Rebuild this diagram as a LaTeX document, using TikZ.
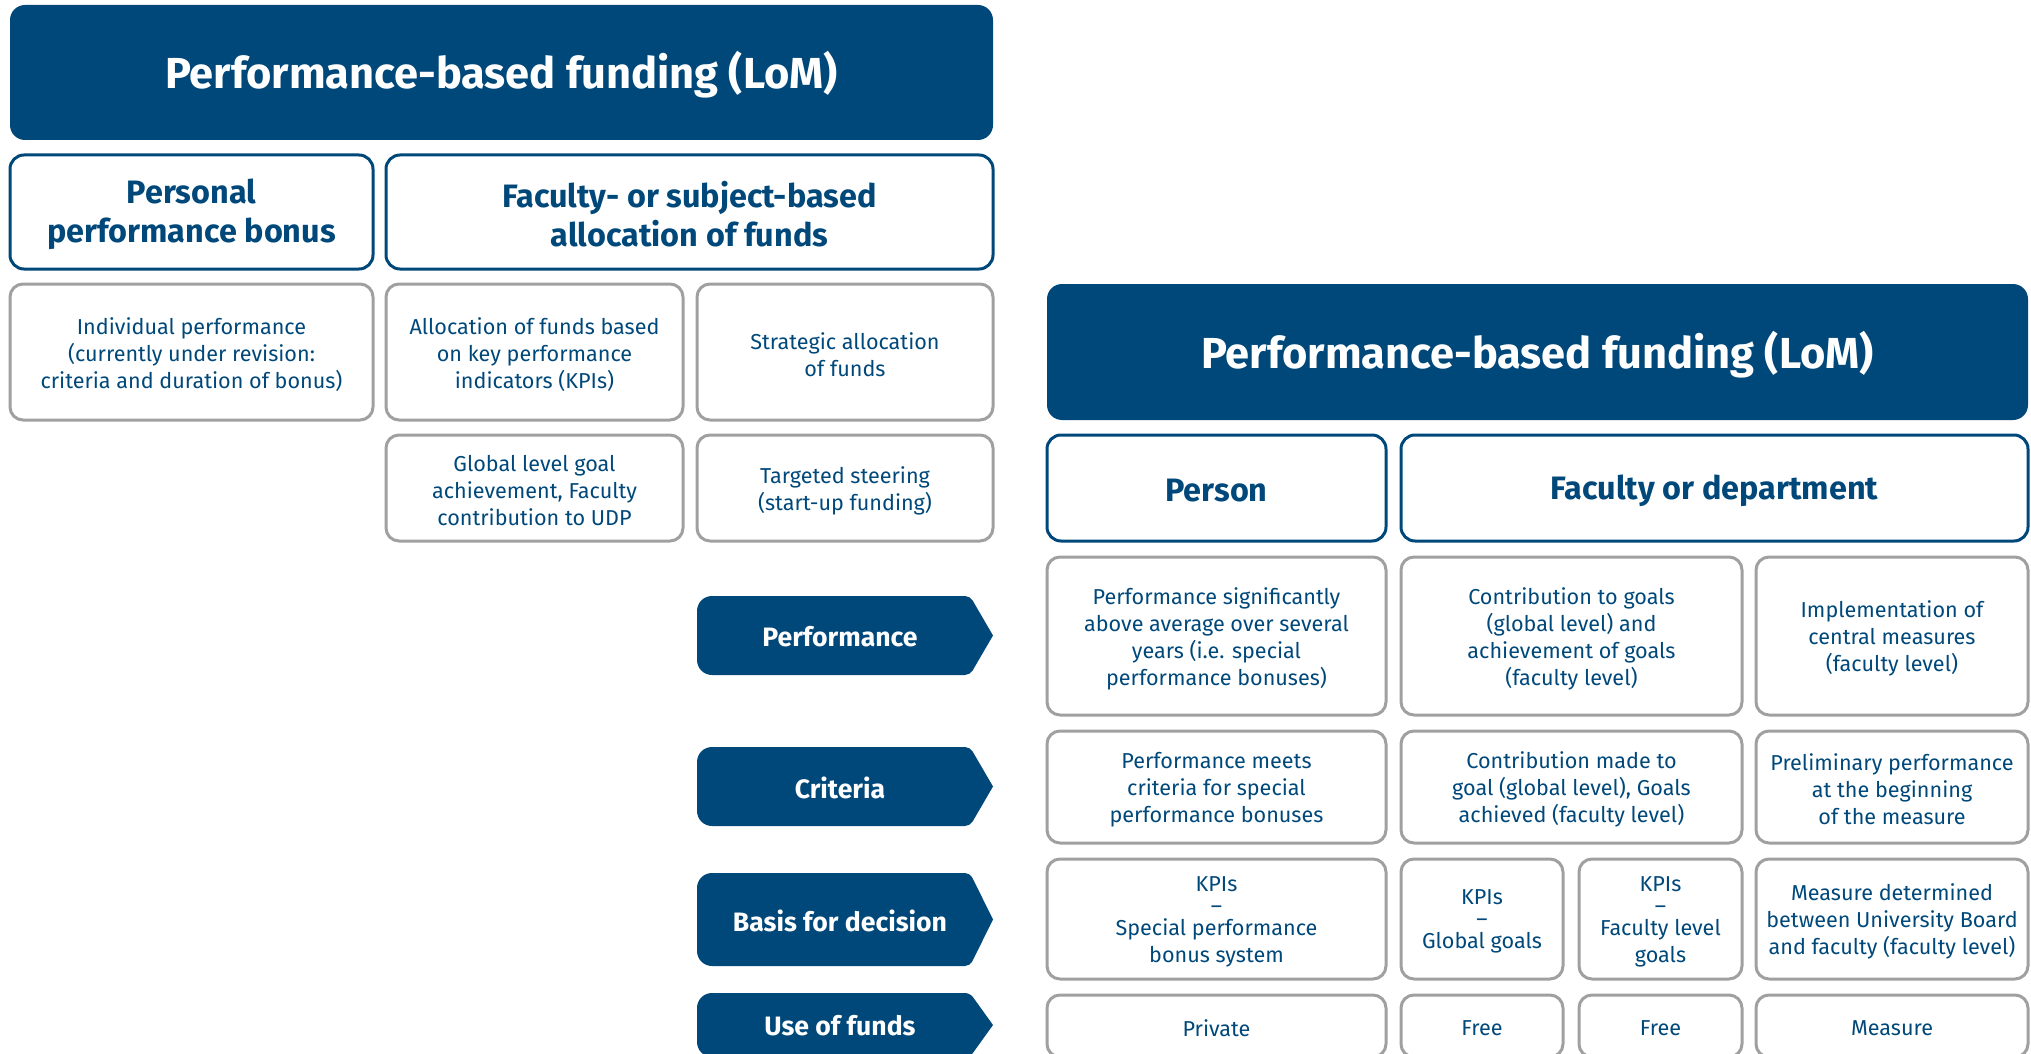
\documentclass[tikz,border=0pt]{standalone}
\usepackage{fontspec}
\setmainfont{Fira Sans}
\usetikzlibrary{fit}
\definecolor{lomblue}{RGB}{0,72,122}
\definecolor{cellgray}{RGB}{160,160,160}
\newcommand\chevron[4]{%
  \fill[lomblue] (993,{(#2+#3)/2}) [rounded corners=2.5pt] -- (970,#2) [rounded corners=7.5pt] -- (697,#2) -- (697,#3) [rounded corners=2.5pt] -- (970,#3) [sharp corners] -- cycle;
  \node[chevtext] (#1) at (840,{(#2+#3)/2}) {#4};}
\begin{document}
\begin{tikzpicture}[x=0.5pt,y=-0.5pt,
  titlebox/.style={fill=lomblue, text=white, inner sep=0pt, rounded corners=7.5pt},
  titletext/.style={text=white, inner sep=0pt, yshift=-1.3pt, font=\bfseries\fontsize{21.7}{26}\selectfont},
  headbox/.style={draw=lomblue, line width=1.5pt, inner sep=0pt, rounded corners=7pt},
  headtext/.style={text=lomblue, inner sep=0pt, yshift=-1.2pt, align=center, font=\bfseries\fontsize{16.2}{19.5}\selectfont},
  cellbox/.style={draw=cellgray, line width=1.5pt, inner sep=0pt, rounded corners=6.5pt},
  celltext/.style={text=lomblue, inner sep=0pt, yshift=-1.2pt, align=center, font=\fontsize{10.8}{13.5}\selectfont},
  chevtext/.style={text=white, inner sep=0pt, yshift=-0.5pt, font=\bfseries\fontsize{13.3}{16}\selectfont}]
\useasboundingbox (0,0) rectangle (2031,1054);
\clip (0,0) rectangle (2031,1054);
% left diagram
\node[titlebox, fit={(10,5) (993,140)}] (t1) {};
\node[titletext] (t1l) at (t1.center) {Performance-based funding (LoM)};
\node[headbox, fit={(10,155) (373,269)}] (h1) {};
\node[headtext] (h1l) at (h1.center) {Personal\\performance bonus};
\node[headbox, fit={(386,155) (993,269)}] (h2) {};
\node[headtext] (h2l) at (h2.center) {Faculty- or subject-based\\allocation of funds};
\node[cellbox, fit={(10,284) (373,420)}] (b1) {};
\node[celltext] (b1l) at (b1.center) {Individual performance\\(currently under revision:\\criteria and duration of bonus)};
\node[cellbox, fit={(386,284) (683,420)}] (b2) {};
\node[celltext] (b2l) at (b2.center) {Allocation of funds based\\on key performance\\indicators (KPIs)};
\node[cellbox, fit={(697,284) (993,420)}] (b3) {};
\node[celltext] (b3l) at (b3.center) {Strategic allocation\\of funds};
\node[cellbox, fit={(386,435) (683,541)}] (b4) {};
\node[celltext] (b4l) at (b4.center) {Global level goal\\achievement, Faculty\\contribution to UDP};
\node[cellbox, fit={(697,435) (993,541)}] (b5) {};
\node[celltext] (b5l) at (b5.center) {Targeted steering\\(start-up funding)};
% right diagram
\node[titlebox, fit={(1047,284) (2028,420)}] (t2) {};
\node[titletext] (t2l) at (t2.center) {Performance-based funding (LoM)};
\node[headbox, fit={(1047,435) (1386,541)}] (h3) {};
\node[headtext] (h3l) at (h3.center) {Person};
\node[headbox, fit={(1401,435) (2028,541)}] (h4) {};
\node[headtext] (h4l) at (h4.center) {Faculty or department};
% row performance
\node[cellbox, fit={(1047,557) (1386,715)}] (r1a) {};
\node[celltext] (r1al) at (r1a.center) {Performance significantly\\above average over several\\years (i.e. special\\performance bonuses)};
\node[cellbox, fit={(1401,557) (1742,715)}] (r1b) {};
\node[celltext] (r1bl) at (r1b.center) {Contribution to goals\\(global level) and\\achievement of goals\\(faculty level)};
\node[cellbox, fit={(1756,557) (2028,715)}] (r1c) {};
\node[celltext] (r1cl) at (r1c.center) {Implementation of\\central measures\\(faculty level)};
% row criteria
\node[cellbox, fit={(1047,731) (1386,843)}] (r2a) {};
\node[celltext] (r2al) at (r2a.center) {Performance meets\\criteria for special\\performance bonuses};
\node[cellbox, fit={(1401,731) (1742,843)}] (r2b) {};
\node[celltext] (r2bl) at (r2b.center) {Contribution made to\\goal (global level), Goals\\achieved (faculty level)};
\node[cellbox, fit={(1756,731) (2028,843)}] (r2c) {};
\node[celltext] (r2cl) at (r2c.center) {Preliminary performance\\at the beginning\\of the measure};
% row basis
\node[cellbox, fit={(1047,859) (1386,979)}] (r3a) {};
\node[celltext] (r3al) at (r3a.center) {KPIs\\[-2.5pt]--\\[-2.5pt]Special performance\\bonus system};
\node[cellbox, fit={(1401,859) (1563,979)}] (r3b) {};
\node[celltext] (r3bl) at (r3b.center) {KPIs\\[-2.5pt]--\\[-2.5pt]Global goals};
\node[cellbox, fit={(1579,859) (1742,979)}] (r3c) {};
\node[celltext] (r3cl) at (r3c.center) {KPIs\\[-2.5pt]--\\[-2.5pt]Faculty level\\goals};
\node[cellbox, fit={(1756,859) (2028,979)}] (r3d) {};
\node[celltext] (r3dl) at (r3d.center) {Measure determined\\between University Board\\and faculty (faculty level)};
% row use of funds
\node[cellbox, fit={(1047,995) (1386,1057)}] (r4a) {};
\node[celltext] (r4al) at (r4a.center) {Private};
\node[cellbox, fit={(1401,995) (1563,1057)}] (r4b) {};
\node[celltext] (r4bl) at (r4b.center) {Free};
\node[cellbox, fit={(1579,995) (1742,1057)}] (r4c) {};
\node[celltext] (r4cl) at (r4c.center) {Free};
\node[cellbox, fit={(1756,995) (2028,1057)}] (r4d) {};
\node[celltext] (r4dl) at (r4d.center) {Measure};
% chevrons
\chevron{cperf}{596}{675}{Performance}
\chevron{ccrit}{747}{826}{Criteria}
\chevron{cbasis}{873}{966}{Basis for decision}
\chevron{cuse}{993}{1057}{Use of funds}
\end{tikzpicture}
\end{document}
